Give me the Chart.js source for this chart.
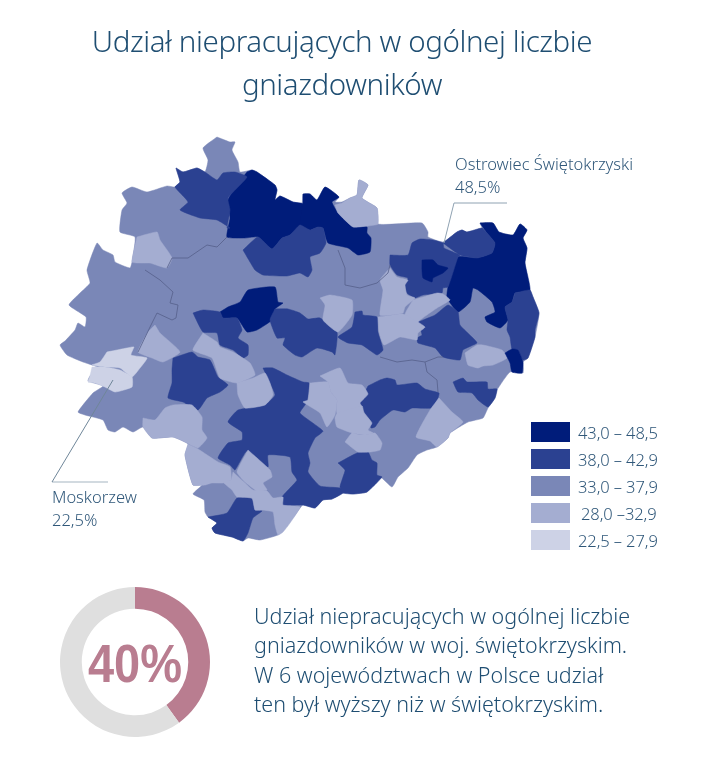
<!DOCTYPE html>
<html lang="pl">
<head>
<meta charset="utf-8">
<title>Udział niepracujących w ogólnej liczbie gniazdowników</title>
<script src="https://cdn.jsdelivr.net/npm/chart.js@4/dist/chart.umd.min.js"></script>
<style>
    html, body { margin: 0; padding: 0; background: #fff; }
    body { width: 708px; height: 768px; position: relative; overflow: hidden; font-family: "Noto Sans", sans-serif; color: #2f5779; }
    #mapChart { position: absolute; left: 0; top: 0; }
    #donutChart { position: absolute; left: 55px; top: 582px; }
    .t { position: absolute; white-space: nowrap; line-height: 1; }
    #title { left: 0; width: 684px; top: 19px; text-align: center; font-size: 29.5px; line-height: 43px; font-weight: 300; letter-spacing: -0.4px; color: #1f4e72; white-space: normal; }
    .label { font-size: 16.5px; font-weight: 300; line-height: 22.5px; }
    #pct { left: 55px; width: 160px; top: 636px; text-align: center; font-family: "Liberation Sans", sans-serif; font-weight: 700; font-size: 54px; color: #b97d90; transform: scaleX(0.87); }
    #para { left: 254px; top: 601px; font-size: 21.5px; line-height: 29.3px; font-weight: 300; color: #1f4e72; }
    .swatch { position: absolute; left: 531px; width: 39px; height: 20px; }
    .legendText { font-size: 16.5px; font-weight: 300; letter-spacing: -0.1px; }
</style>
</head>
<body>
<canvas id="mapChart" width="708" height="768"></canvas>
<canvas id="donutChart" width="160" height="160"></canvas>
<div id="title" class="t">Udział niepracujących w ogólnej liczbie<br>gniazdowników</div>
<div class="t label" style="left:455px;top:153px">Ostrowiec Świętokrzyski<br>48,5%</div>
<div class="t label" style="left:52px;top:486px">Moskorzew<br>22,5%</div>
<div id="pct" class="t">40%</div>
<div id="para" class="t">Udział niepracujących w ogólnej liczbie<br>gniazdowników w woj. świętokrzyskim.<br>W 6 województwach w Polsce udział<br>ten był wyższy niż w świętokrzyskim.</div>
<div id="legend"></div>
<script>
// legend classes, darkest first
const classLabels = ["43,0 – 48,5", "38,0 – 42,9", "33,0 – 37,9", "28,0 –32,9", "22,5 – 27,9"];
const classMins = [43, 38, 33, 28, 22.5];

// doughnut
const donutLabels = ["świętokrzyskie", "pozostali"];
const donutValues = [40, 60];

// estimated share per area, the first one is the whole voivodeship
const regionValues = [
    35,
    44, 45, 46,
    40, 40, 41, 41,
    48.5, 44,
    40, 41, 40, 40, 41, 41, 40, 40, 41, 40, 40,
    30, 30, 30, 30, 31, 31, 30, 30, 30, 30, 30, 29, 30, 29, 30, 30, 30, 31, 30,
    25, 22.5
];

// area outlines in map units, same order as regionValues
const regionOutlines = [
    [[217,137],[230,142],[235,142],[232,150],[238,162],[240,172],[252,170],[257,172],[275,185],[277,190],[275,200],[280,196],[293,202],[302,203],[303,194],[310,194],[317,200],[325,187],[339,197],[335,202],[342,202],[350,198],[357,195],[359,180],[368,185],[362,198],[377,208],[378,224],[422,223],[428,232],[428,237],[443,242],[457,232],[462,230],[467,232],[482,228],[480,223],[493,223],[499,232],[513,235],[520,224],[527,230],[523,238],[527,248],[525,263],[530,290],[533,297],[539,313],[535,337],[528,358],[523,362],[523,373],[510,372],[497,390],[495,398],[488,408],[483,418],[468,422],[450,433],[448,438],[437,447],[427,450],[417,455],[408,468],[398,477],[392,487],[380,477],[367,492],[353,494],[343,493],[332,499],[323,500],[315,508],[303,505],[295,515],[283,530],[278,535],[260,540],[248,538],[243,541],[232,537],[215,533],[212,528],[217,523],[208,517],[205,512],[204,500],[193,494],[202,485],[193,485],[185,455],[188,444],[173,437],[152,438],[143,427],[133,432],[123,427],[115,432],[108,430],[103,420],[85,415],[78,412],[93,393],[103,386],[88,381],[90,376],[97,367],[92,365],[83,362],[67,355],[60,345],[65,341],[75,330],[78,323],[85,327],[86,317],[69,305],[80,293],[90,283],[87,270],[97,243],[103,250],[113,255],[115,262],[130,268],[132,262],[135,237],[120,232],[122,210],[127,203],[122,193],[132,187],[147,192],[167,186],[175,187],[180,182],[176,168],[183,172],[197,168],[205,172],[208,160],[203,148]],
    [[247,172],[252,170],[257,172],[275,185],[277,190],[275,200],[280,196],[293,202],[303,204],[300,225],[290,235],[282,238],[272,249],[258,237],[245,238],[227,237],[230,218],[228,200],[237,185]],
    [[303,194],[310,194],[317,200],[325,187],[339,197],[332,202],[338,213],[347,222],[353,227],[367,227],[367,233],[371,238],[370,252],[358,255],[348,248],[328,243],[323,228],[318,227],[310,230],[300,225],[303,204]],
    [[480,223],[493,223],[499,232],[513,235],[520,224],[527,230],[523,238],[527,248],[525,263],[530,290],[515,293],[512,302],[505,307],[508,320],[500,328],[487,322],[485,317],[495,312],[492,302],[478,290],[473,288],[470,302],[458,312],[447,298],[448,287],[458,257],[477,258],[492,253],[495,243],[487,233]],
    [[176,168],[183,172],[197,168],[205,172],[217,180],[223,173],[235,172],[247,177],[228,198],[230,210],[227,228],[230,228],[217,220],[200,218],[180,210],[188,202],[175,187],[180,182]],
    [[243,250],[258,237],[272,249],[282,238],[290,235],[300,225],[310,230],[318,227],[323,228],[326,243],[320,253],[310,257],[312,270],[308,277],[300,273],[287,276],[263,275],[255,270],[250,262]],
    [[390,255],[408,255],[412,243],[420,239],[433,240],[443,243],[444,248],[460,255],[458,257],[448,287],[443,288],[442,293],[423,295],[415,298],[407,293],[405,283],[408,278],[397,275],[390,265]],
    [[443,243],[457,232],[462,230],[467,232],[482,228],[487,233],[495,243],[492,253],[477,258],[460,255]],
    [[422,260],[433,260],[438,265],[448,268],[443,273],[433,278],[432,282],[423,278],[422,270]],
    [[220,312],[228,307],[240,302],[248,290],[275,287],[278,302],[283,303],[275,309],[272,320],[257,330],[247,332],[237,318],[223,318]],
    [[418,322],[435,315],[448,305],[458,312],[460,325],[473,338],[477,343],[463,350],[460,360],[443,357],[435,348],[418,343],[417,338],[422,335]],
    [[515,293],[530,290],[533,297],[539,313],[535,330],[535,337],[528,358],[523,360],[518,350],[512,349],[510,337],[507,330],[508,320],[505,307],[512,302]],
    [[275,309],[288,309],[300,313],[308,319],[320,318],[337,332],[335,355],[332,352],[317,348],[302,357],[295,355],[283,345],[285,338],[277,338],[270,320]],
    [[355,312],[362,311],[363,315],[377,317],[378,332],[383,350],[377,355],[362,345],[348,343],[338,337],[352,327]],
    [[193,313],[203,310],[220,312],[223,318],[237,318],[242,330],[238,338],[248,345],[248,355],[243,358],[233,350],[220,345],[217,333],[203,332]],
    [[173,358],[192,352],[198,357],[210,360],[218,377],[228,385],[220,392],[207,398],[198,410],[183,402],[168,398],[172,383],[172,370]],
    [[263,368],[273,368],[287,375],[303,382],[309,383],[307,402],[300,413],[323,431],[315,438],[308,453],[310,463],[308,472],[320,486],[340,488],[343,493],[332,499],[323,500],[315,508],[303,505],[283,505],[282,497],[290,488],[297,480],[292,472],[290,457],[268,455],[268,467],[247,451],[235,470],[230,465],[218,458],[228,443],[242,440],[242,432],[228,422],[238,410],[265,405],[275,395],[270,383]],
    [[338,463],[357,453],[368,452],[372,460],[377,463],[377,475],[382,477],[367,492],[353,494],[343,493],[340,487],[343,477],[345,470]],
    [[368,386],[380,380],[387,378],[395,380],[397,385],[417,383],[425,389],[439,393],[438,398],[432,408],[412,408],[405,412],[393,410],[380,420],[375,427],[371,428],[370,420],[363,410],[360,403]],
    [[453,382],[463,378],[467,382],[487,382],[488,389],[497,389],[495,398],[488,407],[478,400],[472,393],[458,392]],
    [[208,517],[227,513],[237,498],[252,499],[255,510],[262,511],[253,518],[248,533],[243,541],[232,537],[215,533],[212,528],[217,523]],
    [[137,237],[157,232],[160,240],[172,258],[167,268],[150,263],[142,263],[132,262]],
    [[155,325],[160,333],[180,352],[163,362],[152,358],[138,352],[148,332]],
    [[320,298],[330,295],[352,300],[352,315],[338,332],[323,320],[325,305]],
    [[203,333],[217,342],[220,347],[233,352],[250,363],[255,375],[237,383],[220,378],[212,358],[193,350]],
    [[237,383],[253,378],[265,373],[270,383],[273,395],[265,405],[245,408],[238,395]],
    [[310,383],[328,382],[331,392],[337,400],[335,415],[327,427],[320,413],[303,402],[308,400]],
    [[320,376],[340,368],[348,383],[362,385],[368,394],[360,403],[362,407],[337,413],[337,400],[331,392],[328,382]],
    [[337,413],[362,406],[364,413],[372,423],[368,430],[373,433],[365,435],[352,433],[337,427],[335,418]],
    [[345,442],[352,433],[360,435],[365,435],[375,433],[382,443],[380,450],[370,452],[358,452]],
    [[439,398],[452,412],[463,422],[450,433],[448,438],[437,447],[430,441],[416,437],[430,410]],
    [[390,268],[397,277],[408,280],[405,285],[407,295],[415,298],[405,307],[403,313],[390,315],[380,315],[383,290],[380,280]],
    [[413,300],[437,293],[443,294],[450,300],[437,308],[418,322],[423,328],[405,315]],
    [[378,317],[403,314],[425,327],[418,333],[417,340],[400,337],[384,345],[379,332]],
    [[465,353],[477,345],[483,345],[502,350],[507,358],[493,365],[483,366],[478,368],[468,365]],
    [[335,205],[342,203],[350,198],[357,195],[359,180],[368,185],[362,198],[377,208],[378,224],[367,226],[353,227],[338,213]],
    [[143,418],[155,420],[165,408],[173,405],[192,405],[202,417],[202,430],[207,438],[198,448],[187,443],[173,437],[152,438],[143,427]],
    [[188,444],[198,449],[218,462],[230,467],[231,480],[223,483],[212,483],[205,485],[193,485],[185,455]],
    [[248,450],[270,470],[272,477],[263,483],[267,490],[257,491],[245,482],[237,472]],
    [[233,472],[245,483],[253,490],[267,491],[273,498],[283,497],[283,505],[300,507],[290,523],[283,532],[278,535],[275,525],[273,512],[262,510],[255,510],[252,498],[237,497],[232,490],[223,482],[231,480]],
    [[107,352],[132,347],[134,347],[131,355],[147,358],[140,368],[132,377],[120,368],[105,367],[92,365],[100,362]],
    [[92,367],[105,367],[120,370],[132,377],[132,387],[115,392],[105,387],[95,383],[88,382],[90,376]]
];

// the small dark area on the eastern edge, drawn last
const easternValue = [47];
const easternOutline = [[505,353],[512,349],[518,350],[523,362],[522,373],[512,372],[510,363]];

// dark border lines between same coloured areas
const borderLines = [
    [[167,268],[172,258],[188,258],[207,245],[217,247],[227,237]],
    [[145,270],[160,280],[173,292],[170,303],[178,305],[176,318],[172,320],[157,313],[151,325],[138,352]],
    [[338,250],[345,268],[345,285],[360,288],[377,283],[388,273],[390,265]],
    [[380,357],[397,362],[412,360],[425,362],[427,372],[437,380],[438,392]],
    [[425,362],[438,357],[443,357]]
];

// leader lines of the two callouts
const ostrowiecLeader = [[444,243],[454,203],[507,203]];
const moskorzewLeader = [[113,380],[52,482]];
const moskorzewBar = [[52,482],[108,482]];

const classColors = ["#001c7a", "#2b4191", "#7a87b7", "#a4add1", "#cdd2e6"];
const donutColors = ["#b97d90", "#dfdfdf"];

function colorFor(v) {
    for (let i = 0; i < classMins.length; i++) {
        if (v >= classMins[i]) return classColors[i];
    }
    return classColors[classColors.length - 1];
}

function toPoints(list) {
    return list.map(function (p) { return { x: p[0], y: p[1] }; });
}

function regionDataset(outline, value, order) {
    const pts = toPoints(outline);
    pts.push(pts[0]);
    const c = colorFor(value);
    return { data: pts, showLine: true, fill: "shape", backgroundColor: c, borderColor: c, borderWidth: 0.5, pointRadius: 0, tension: 0.15, order: order };
}

function lineDataset(list, color, width, order) {
    return { data: toPoints(list), showLine: true, fill: false, borderColor: color, borderWidth: width, pointRadius: 0, tension: 0, borderDash: [1000, 0], order: order };
}

let mapSets = [];
regionOutlines.forEach(function (o, i) {
    mapSets.push(regionDataset(o, regionValues[i], 1000 - i));
});
mapSets.push(regionDataset(easternOutline, easternValue[0], 500));
borderLines.forEach(function (l) {
    mapSets.push(lineDataset(l, "#55608a", 0.8, 400));
});
mapSets.push(lineDataset(ostrowiecLeader, "#8fa2b2", 1, 300));
mapSets.push(lineDataset(moskorzewLeader, "#6f8699", 1, 300));
mapSets.push(lineDataset(moskorzewBar, "#c3ced6", 1.5, 300));

new Chart("mapChart", {
    type: "scatter",
    data: { datasets: mapSets },
    options: {
        responsive: false,
        animation: false,
        events: [],
        layout: { padding: 0 },
        plugins: { legend: { display: false }, tooltip: { enabled: false } },
        scales: {
            x: { type: "linear", min: 0, max: 708, display: false },
            y: { type: "linear", min: 0, max: 768, reverse: true, display: false }
        }
    }
});

new Chart("donutChart", {
    type: "doughnut",
    data: {
        labels: donutLabels,
        datasets: [{ data: donutValues, backgroundColor: donutColors, borderWidth: 0 }]
    },
    options: {
        responsive: false,
        animation: false,
        events: [],
        cutout: "71%",
        radius: 75,
        plugins: { legend: { display: false }, tooltip: { enabled: false } }
    }
});

// legend rows
const legendBox = document.getElementById("legend");
classLabels.forEach(function (txt, i) {
    const top = 422 + i * 27;
    const s = document.createElement("div");
    s.className = "swatch";
    s.style.top = top + "px";
    s.style.background = classColors[i];
    legendBox.appendChild(s);
    const t = document.createElement("div");
    t.className = "t legendText";
    t.style.left = (i === 3 ? 581 : 578) + "px";
    t.style.top = (top + 3) + "px";
    t.textContent = txt;
    legendBox.appendChild(t);
});
</script>
</body>
</html>
